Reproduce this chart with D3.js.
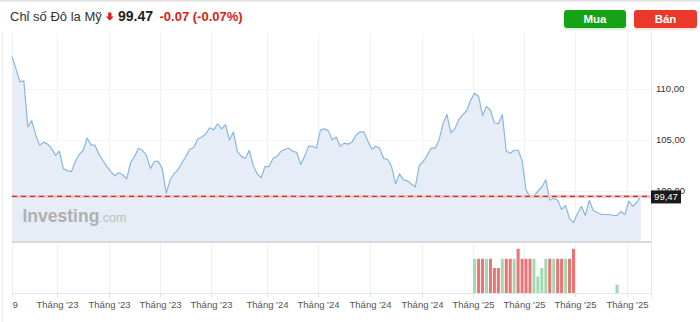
<!DOCTYPE html>
<html>
<head>
<meta charset="utf-8">
<script src="https://cdn.jsdelivr.net/npm/d3@7/dist/d3.min.js"></script>
<style>
    body { margin: 0; background: #fff; font-family: "Liberation Sans", Arial, sans-serif; }
    svg { display: block; }
</style>
</head>
<body>
<div id="chart"></div>
<script>
// weekly closes, first week ends 2022-10-14
let startDate = '2022-10-14';
let closes = [
    113.2, 112.0, 110.7, 110.8, 106.3, 106.9, 105.5, 104.5, 104.8, 104.6, 104.2, 103.5,
    103.9, 102.2, 102.0, 101.9, 102.9, 103.6, 104.0, 105.2, 104.5, 104.5, 103.6, 103.0,
    102.4, 101.9, 101.5, 101.8, 101.6, 101.2, 102.8, 103.4,
    104.2, 104.0, 103.5, 102.2, 102.9, 102.9, 102.2, 99.8, 101.1, 101.7, 102.1, 102.8,
    103.4, 104.1, 104.3, 105.1, 105.3, 105.6, 106.2, 106.0, 106.6, 106.1, 106.5, 105.0,
    105.8, 103.9, 103.4, 103.2, 104.0, 102.5, 101.7, 101.3, 102.4,
    102.4, 103.2, 103.4, 103.9, 104.1, 104.2, 103.9, 103.8, 102.6, 103.4, 104.4, 104.4,
    104.2, 106.0, 106.1, 105.9, 105.0, 105.3, 104.4, 104.7, 104.6, 104.8, 105.5, 105.8,
    105.8, 104.9, 104.1, 104.4, 104.2, 103.2, 103.1,
    102.4, 100.7, 101.7, 101.1, 101.0, 100.7, 100.4, 102.5, 102.9, 103.5, 104.2, 104.2,
    105.0, 106.6, 107.5, 105.7, 106.1, 107.0, 107.5, 107.9, 108.9, 109.6, 109.3, 107.4,
    108.3, 107.9, 106.7, 106.6, 107.5, 103.9, 103.7, 104.0, 104.0,
    103.0, 100.1, 99.4, 99.5, 100.0, 100.4, 101.1, 99.1, 99.3, 99.1, 98.2, 98.6,
    97.3, 96.9, 97.8, 98.5, 97.6, 99.1, 98.1, 97.9, 97.7, 97.7, 97.7, 97.6,
    97.6, 98.0, 97.7, 99.0, 98.5, 98.9, 99.47
];

let lastPrice = 99.47;
let change = -0.07;
let changePct = -0.07;

let volumeDates = [
    '2025-01-10', '2025-01-17', '2025-01-24', '2025-01-31', '2025-02-07', '2025-02-14',
    '2025-02-21', '2025-02-28', '2025-03-07', '2025-03-14', '2025-03-21', '2025-03-28',
    '2025-04-04', '2025-04-11', '2025-04-18', '2025-04-25', '2025-05-02', '2025-05-09',
    '2025-05-16', '2025-05-23', '2025-05-30', '2025-06-06', '2025-06-13', '2025-06-20',
    '2025-06-27', '2025-07-04', '2025-09-19'
];
let volumeValues = [
    4.1, 4.1, 4.1, 4.1, 4.1, 3.0, 3.0, 4.1, 4.1, 4.1, 4.1, 5.3,
    4.1, 4.1, 4.1, 4.1, 2.0, 3.0, 4.1, 4.1, 4.1, 4.1, 4.1, 4.1,
    4.1, 5.3, 1.0
];
// 1 = up week (green), 0 = down week (red)
let volumeUp = [
    1, 0, 0, 1, 0, 0, 0, 1, 0, 0, 1, 0,
    0, 0, 0, 1, 1, 1, 1, 0, 1, 0, 0, 1,
    0, 0, 1
];

let tickDates = [
    '2022-10-14', '2023-01-01', '2023-04-03', '2023-07-03', '2023-10-01', '2024-01-08',
    '2024-04-08', '2024-07-08', '2024-10-08', '2025-01-07', '2025-04-07', '2025-07-06',
    '2025-10-06'
];
let tickLabels = [
    '9', "Tháng '23", "Tháng '23", "Tháng '23", "Tháng '23", "Tháng '24",
    "Tháng '24", "Tháng '24", "Tháng '24", "Tháng '25", "Tháng '25", "Tháng '25",
    "Tháng '25"
];
let priceTicks = [100, 105, 110];

let width = 700,
    height = 322;
let plot = { left: 12, right: 651, lastX: 640.7, top: 33, priceBottom: 241, volTop: 243, volBottom: 293 };

let parseDate = d3.timeParse('%Y-%m-%d');
let viLocale = d3.formatLocale({ decimal: ',', thousands: '.', grouping: [3], currency: ['', ''], minus: '-' });
let enLocale = d3.formatLocale({ decimal: '.', thousands: ',', grouping: [3], currency: ['', ''], minus: '-' });
let fmt2 = viLocale.format('.2f');
let fmtHead = enLocale.format('.2f');

let series = closes.map(function(v, i) {
    return { date: d3.timeWeek.offset(parseDate(startDate), i), value: v };
});

let svg = d3.select('#chart')
    .append('svg')
    .attr('width', width)
    .attr('height', height);

let x = d3.scaleTime()
    .domain([series[0].date, series[series.length - 1].date])
    .range([plot.left, plot.lastX]);

let y = d3.scaleLinear()
    .domain([95.1, 115.5])
    .range([plot.priceBottom, plot.top]);

let yVol = d3.scaleLinear()
    .domain([0, 6])
    .range([plot.volBottom, plot.volTop]);

drawFrame();
drawHeader();
drawPrice();
drawVolume();
drawAxes();

function drawFrame() {
    // top border of the widget
    svg.append('line')
        .attr('x1', 0).attr('x2', width)
        .attr('y1', 0.75).attr('y2', 0.75)
        .attr('stroke', '#e2e2e2')
        .attr('stroke-width', 1.5);

    svg.append('line')
        .attr('x1', 2.5).attr('x2', 2.5)
        .attr('y1', plot.top).attr('y2', height)
        .attr('stroke', '#ececec');

    // vertical grid through both panes
    svg.append('g')
        .selectAll('line')
        .data(tickDates)
        .enter()
        .append('line')
        .attr('x1', d => Math.round(x(parseDate(d))) + 0.5)
        .attr('x2', d => Math.round(x(parseDate(d))) + 0.5)
        .attr('y1', plot.top)
        .attr('y2', plot.volBottom)
        .attr('stroke', '#f0f2f5');

    // horizontal grid of price pane
    svg.append('g')
        .selectAll('line')
        .data(priceTicks)
        .enter()
        .append('line')
        .attr('x1', plot.left).attr('x2', plot.right)
        .attr('y1', d => Math.round(y(d)) + 0.5)
        .attr('y2', d => Math.round(y(d)) + 0.5)
        .attr('stroke', '#f3f4f6');

    svg.append('line')
        .attr('x1', plot.right + 0.5).attr('x2', plot.right + 0.5)
        .attr('y1', plot.top).attr('y2', plot.volBottom + 6)
        .attr('stroke', '#e6e8eb');
}

function drawHeader() {
    svg.append('text')
        .attr('x', 10)
        .attr('y', 21)
        .attr('font-size', 13)
        .attr('fill', '#333')
        .text('Chỉ số Đô la Mỹ');

    // red down arrow
    svg.append('path')
        .attr('d', 'M108.2,12.5h3.2v4h2.3l-3.9,4.3l-3.9,-4.3h2.3z')
        .attr('fill', '#d91e18');

    svg.append('text')
        .attr('x', 118)
        .attr('y', 21)
        .attr('font-size', 14)
        .attr('font-weight', 'bold')
        .attr('fill', '#222')
        .text(fmtHead(lastPrice));

    svg.append('text')
        .attr('x', 159.5)
        .attr('y', 21)
        .attr('font-size', 13)
        .attr('font-weight', 'bold')
        .attr('fill', '#d91e18')
        .text(fmtHead(change) + ' (' + fmtHead(changePct) + '%)');

    let buttons = [
        { label: 'Mua', x: 564, w: 62, color: '#15a215' },
        { label: 'Bán', x: 634, w: 63, color: '#e8392b' }
    ];
    let btn = svg.append('g')
        .selectAll('g')
        .data(buttons)
        .enter()
        .append('g');
    btn.append('rect')
        .attr('x', d => d.x + 0.5)
        .attr('y', 11)
        .attr('width', d => d.w)
        .attr('height', 18)
        .attr('rx', 3)
        .attr('fill', d => d.color)
        .attr('opacity', 0.12)
        .attr('transform', 'translate(0,1.5)');
    btn.append('rect')
        .attr('x', d => d.x)
        .attr('y', 10)
        .attr('width', d => d.w)
        .attr('height', 18)
        .attr('rx', 3)
        .attr('fill', d => d.color);
    btn.append('text')
        .attr('x', d => d.x + d.w / 2)
        .attr('y', 23)
        .attr('text-anchor', 'middle')
        .attr('font-size', 11.5)
        .attr('font-weight', 'bold')
        .attr('fill', '#fff')
        .text(d => d.label);
}

function drawPrice() {
    let area = d3.area()
        .x(d => x(d.date))
        .y0(plot.priceBottom)
        .y1(d => y(d.value));

    let line = d3.line()
        .x(d => x(d.date))
        .y(d => y(d.value));

    svg.append('path')
        .datum(series)
        .attr('d', area)
        .attr('fill', '#e6edf6');

    // watermark sits on the fill
    let mark = svg.append('text')
        .attr('x', 22.5)
        .attr('y', 222)
        .attr('fill', '#b0b0b0');
    mark.append('tspan')
        .attr('font-size', 17.5)
        .attr('font-weight', 'bold')
        .text('Investing');
    mark.append('tspan')
        .attr('font-size', 12.5)
        .attr('fill', '#c0c0c0')
        .text('.com');

    svg.append('path')
        .datum(series)
        .attr('d', line)
        .attr('fill', 'none')
        .attr('stroke', '#8ab7e0')
        .attr('stroke-width', 1.2)
        .attr('stroke-linejoin', 'round');

    // price pane bottom
    svg.append('line')
        .attr('x1', plot.left).attr('x2', plot.right)
        .attr('y1', plot.priceBottom + 1).attr('y2', plot.priceBottom + 1)
        .attr('stroke', '#d6dae0')
        .attr('stroke-width', 2);

    // last price line
    let py = y(lastPrice);
    svg.append('line')
        .attr('x1', plot.left).attr('x2', plot.right)
        .attr('y1', py).attr('y2', py)
        .attr('stroke', '#f6c4c4')
        .attr('stroke-width', 3);
    svg.append('line')
        .attr('x1', plot.left).attr('x2', plot.right)
        .attr('y1', py).attr('y2', py)
        .attr('stroke', '#b33a3a')
        .attr('stroke-width', 1.2)
        .attr('stroke-dasharray', '5,4');
}

function drawVolume() {
    let bars = volumeDates.map(function(d, i) {
        return { date: parseDate(d), value: volumeValues[i], up: volumeUp[i] };
    });
    svg.append('g')
        .selectAll('rect')
        .data(bars)
        .enter()
        .append('rect')
        .attr('x', d => x(d.date) - 1.5)
        .attr('y', d => yVol(d.value))
        .attr('width', 3)
        .attr('height', d => plot.volBottom - yVol(d.value))
        .attr('fill', d => d.up ? '#a4d8b0' : '#e87474');

    svg.append('line')
        .attr('x1', plot.left).attr('x2', plot.right)
        .attr('y1', plot.volBottom + 0.5).attr('y2', plot.volBottom + 0.5)
        .attr('stroke', '#e3e6ea');
}

function drawAxes() {
    // price labels on the right
    svg.append('g')
        .selectAll('text')
        .data(priceTicks)
        .enter()
        .append('text')
        .attr('x', 656)
        .attr('y', d => y(d))
        .attr('dy', '0.35em')
        .attr('font-size', 9.5)
        .attr('fill', '#333')
        .text(d => fmt2(d));

    // last price badge covers the 100,00 label like in the widget
    let py = y(lastPrice);
    svg.append('rect')
        .attr('x', plot.right)
        .attr('y', py - 6)
        .attr('width', 30)
        .attr('height', 13)
        .attr('fill', '#1a1a1a');
    svg.append('text')
        .attr('x', plot.right + 15)
        .attr('y', py + 0.5)
        .attr('dy', '0.35em')
        .attr('text-anchor', 'middle')
        .attr('font-size', 9.5)
        .attr('fill', '#fff')
        .text(fmt2(lastPrice));

    // time ticks and labels
    let ticks = svg.append('g')
        .selectAll('g')
        .data(tickDates)
        .enter()
        .append('g')
        .attr('transform', d => 'translate(' + (Math.round(x(parseDate(d))) + 0.5) + ',0)');
    ticks.append('line')
        .attr('y1', plot.volBottom)
        .attr('y2', plot.volBottom + 4)
        .attr('stroke', '#dcdfe3');
    ticks.append('text')
        .attr('y', 308)
        .attr('text-anchor', (d, i) => i === 0 ? 'start' : 'middle')
        .attr('font-size', 9.5)
        .attr('fill', '#555')
        .text((d, i) => tickLabels[i]);
}
</script>
</body>
</html>
